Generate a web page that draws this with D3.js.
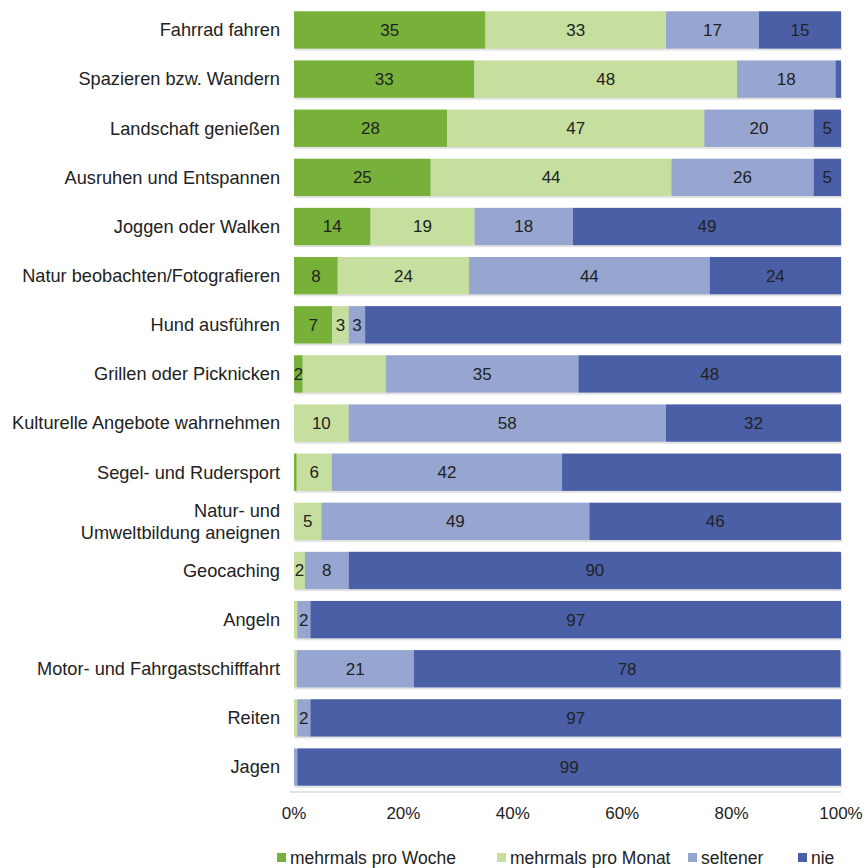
<!DOCTYPE html>
<html>
<head>
<meta charset="utf-8">
<script src="https://cdn.jsdelivr.net/npm/d3@7"></script>
<style>
  body { margin: 0; background: #fff; }
  text { font-family: "Liberation Sans", Arial, sans-serif; }
</style>
</head>
<body>
<div id="chart"></div>
<script>
const categories = [
    "Fahrrad fahren",
    "Spazieren bzw. Wandern",
    "Landschaft genießen",
    "Ausruhen und Entspannen",
    "Joggen oder Walken",
    "Natur beobachten/Fotografieren",
    "Hund ausführen",
    "Grillen oder Picknicken",
    "Kulturelle Angebote wahrnehmen",
    "Segel- und Rudersport",
    "Natur- und\nUmweltbildung aneignen",
    "Geocaching",
    "Angeln",
    "Motor- und Fahrgastschifffahrt",
    "Reiten",
    "Jagen"
];

const seriesNames = ["mehrmals pro Woche", "mehrmals pro Monat", "seltener", "nie"];

const woche   = [35, 33, 28, 25, 14, 8, 7, 1.6, 0, 0.5, 0, 0, 0, 0, 0, 0];
const monat   = [33, 48, 47, 44, 19, 24, 3, 15.2, 10, 6.4, 5, 2, 0.6, 0.5, 0.6, 0];
const seltener = [17, 18, 20, 26, 18, 44, 3, 35.2, 58, 42.1, 49, 8, 2.4, 21.4, 2.4, 0.6];
const nie     = [15, 1, 5, 5, 49, 24, 87, 48, 32, 51, 46, 90, 97, 78, 97, 99.4];

// segments whose value label is not printed in the original
const hiddenLabels = [
    "Spazieren bzw. Wandern|nie",
    "Hund ausführen|nie",
    "Grillen oder Picknicken|mehrmals pro Monat",
    "Segel- und Rudersport|nie"
];

const xTicks = [0, 20, 40, 60, 80, 100];

const colors = ["#77b139", "#c6df9f", "#97a6d1", "#4a5fa6"];

const width = 866, height = 868,
    margin = { top: 5.4, right: 25, bottom: 76.4, left: 294 };

const svg = d3.select("#chart").append("svg")
    .attr("width", width).attr("height", height);

const x = d3.scaleLinear()
    .domain([0, 100])
    .range([margin.left, width - margin.right]);

const y = d3.scaleBand()
    .domain(categories)
    .range([margin.top, height - margin.bottom])
    .paddingInner(0.24)
    .paddingOuter(0.12);

var rows = categories.map((c, i) => ({
    category: c, woche: woche[i], monat: monat[i], seltener: seltener[i], nie: nie[i]
}));
var keys = ["woche", "monat", "seltener", "nie"];
var stacked = d3.stack().keys(keys)(rows);

// axis baseline
svg.append("line")
    .attr("x1", x(0) - 4).attr("x2", x(100))
    .attr("y1", y.range()[1] + 0.5).attr("y2", y.range()[1] + 0.5)
    .attr("stroke", "#d9d9d9").attr("stroke-width", 1.5);

// soft shadow under bars
svg.append("g").selectAll("rect")
    .data(rows)
    .enter().append("rect")
    .attr("x", x(0) + 1)
    .attr("y", d => y(d.category) + 2)
    .attr("width", x(100) - x(0))
    .attr("height", y.bandwidth())
    .attr("fill", "#e3e3e3");

stacked.forEach((layer, k) => {
    var g = svg.append("g");
    g.selectAll("rect")
        .data(layer)
        .enter().append("rect")
        .attr("x", d => x(d[0]))
        .attr("y", d => y(d.data.category))
        .attr("width", d => x(d[1]) - x(d[0]))
        .attr("height", y.bandwidth())
        .attr("fill", colors[k]);

    g.selectAll("text")
        .data(layer.filter(d => (d[1] - d[0]) >= 1 &&
            hiddenLabels.indexOf(d.data.category + "|" + seriesNames[k]) < 0))
        .enter().append("text")
        .attr("x", d => (x(d[0]) + x(d[1])) / 2)
        .attr("y", d => y(d.data.category) + y.bandwidth() / 2)
        .attr("dy", "0.35em")
        .attr("text-anchor", "middle")
        .style("font-size", "17px")
        .attr("fill", "#222")
        .text(d => Math.round(d[1] - d[0]));
});

// category labels
svg.append("g").selectAll("text")
    .data(categories)
    .enter().append("text")
    .attr("text-anchor", "end")
    .attr("fill", "#222")
    .style("font-size", "18.2px")
    .each(function (c) {
        var lines = c.split("\n");
        var cy = y(c) + y.bandwidth() / 2;
        var t = d3.select(this);
        lines.forEach((l, i) => {
            t.append("tspan")
                .attr("x", 280)
                .attr("y", cy + (i - (lines.length - 1) / 2) * 22)
                .attr("dy", "0.35em")
                .text(l);
        });
    });

// x tick labels
svg.append("g").selectAll("text")
    .data(xTicks)
    .enter().append("text")
    .attr("x", d => x(d))
    .attr("y", 813)
    .attr("dy", "0.35em")
    .attr("text-anchor", "middle")
    .attr("fill", "#222")
    .style("font-size", "17px")
    .text(d => d + "%");

// legend
var legendX = [277, 497, 688, 798];
var legend = svg.append("g").selectAll("g")
    .data(seriesNames)
    .enter().append("g")
    .attr("transform", (d, i) => `translate(${legendX[i]},858)`);

legend.append("rect")
    .attr("x", 0).attr("y", -5)
    .attr("width", 9).attr("height", 9)
    .attr("fill", (d, i) => colors[i]);

legend.append("text")
    .attr("x", 13)
    .attr("dy", "0.35em")
    .attr("fill", "#222")
    .style("font-size", "17.5px")
    .text(d => d);
</script>
</body>
</html>
